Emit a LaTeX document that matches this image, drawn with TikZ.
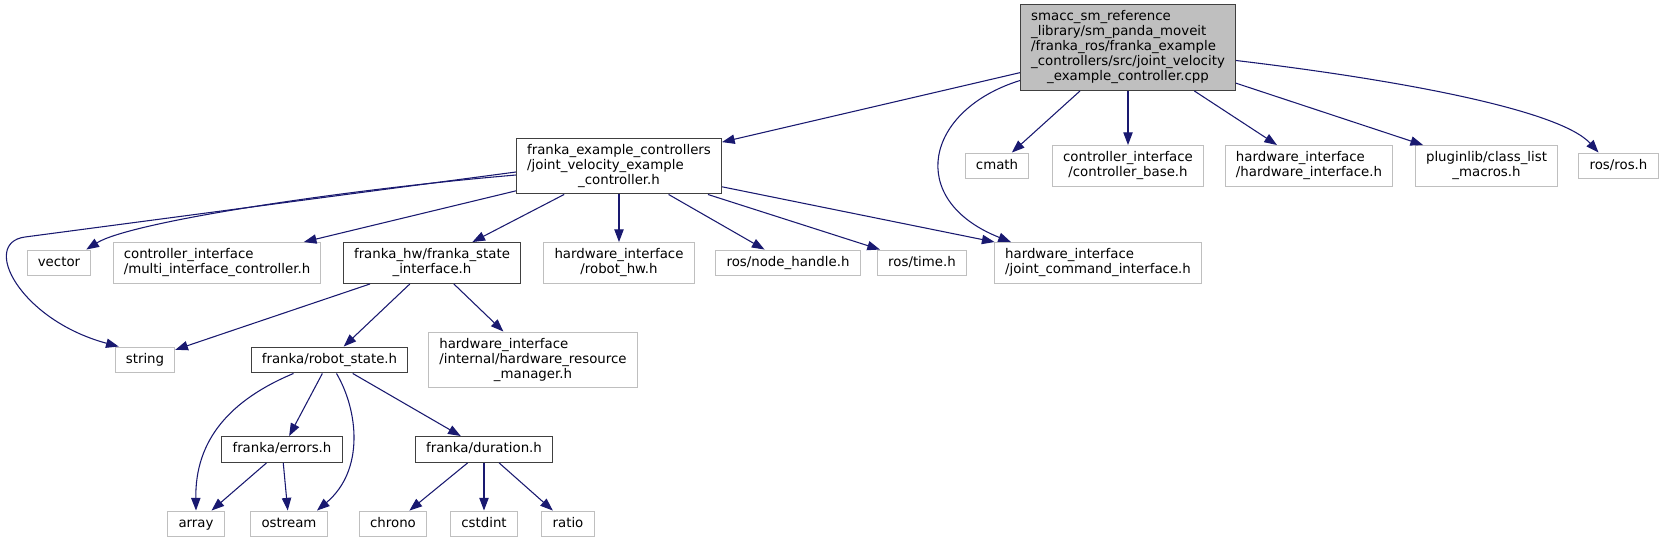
\documentclass[tikz,border=0pt]{standalone}
\usepackage{fontspec}
\setmainfont{DejaVu Sans}
\usetikzlibrary{arrows.meta,calc}

\definecolor{edgeblue}{HTML}{191970}
\definecolor{grayfill}{HTML}{BFBFBF}
\definecolor{grayline}{HTML}{BFBFBF}
\definecolor{darkline}{HTML}{404040}

% label lines: left aligned, the last one centred
\newcommand{\flbl}[1]{\begin{tabular}{@{}l@{}}#1\end{tabular}}
\newcommand{\lastln}[1]{\multicolumn{1}{@{}c@{}}{#1}}

\tikzset{
  file/.style = {rectangle, inner xsep=8pt, inner ysep=4.1pt, line width=0.75pt,
                 font=\fontsize{10}{11.25}\selectfont},
  rootfile/.style = {file, draw=darkline, fill=grayfill},
  hdr/.style = {file, draw=darkline, fill=white},
  ext/.style = {file, draw=grayline, fill=white},
  dep/.style = {draw=edgeblue, line width=0.8pt, -{Triangle[length=9.5pt,width=7pt]}}
}

\begin{document}
\begin{tikzpicture}[x=0.75pt, y=-0.75pt]
	\path[use as bounding box, fill=white] (0,0) rectangle (1666,543);

	% the source file
	\node[rootfile] (cpp) at (1128,47.5) {\flbl{smacc\_sm\_reference\\\_library/sm\_panda\_moveit\\/franka\_ros/franka\_example\\\_controllers/src/joint\_velocity\\\lastln{\_example\_controller.cpp}}};

	% first row
	\node[hdr] (jvech) at (619,166) {\flbl{franka\_example\_controllers\\/joint\_velocity\_example\\\lastln{\_controller.h}}};
	\node[ext] (cmath) at (997,166) {\flbl{cmath}};
	\node[ext] (ctrlbase) at (1128,166) {\flbl{controller\_interface\\\lastln{/controller\_base.h}}};
	\node[ext] (hwiface) at (1309,166) {\flbl{hardware\_interface\\\lastln{/hardware\_interface.h}}};
	\node[ext] (pluginlib) at (1486.5,166) {\flbl{pluginlib/class\_list\\\lastln{\_macros.h}}};
	\node[ext] (rosh) at (1618.5,166) {\flbl{ros/ros.h}};

	% second row
	\node[ext] (vector) at (59,263) {\flbl{vector}};
	\node[ext] (multi) at (217,263) {\flbl{controller\_interface\\\lastln{/multi\_interface\_controller.h}}};
	\node[hdr] (fsi) at (432,263) {\flbl{franka\_hw/franka\_state\\\lastln{\_interface.h}}};
	\node[ext] (robothw) at (619,263) {\flbl{hardware\_interface\\\lastln{/robot\_hw.h}}};
	\node[ext] (nodehandle) at (788,263) {\flbl{ros/node\_handle.h}};
	\node[ext] (rostime) at (922,263) {\flbl{ros/time.h}};
	\node[ext] (jointcmd) at (1098,263) {\flbl{hardware\_interface\\\lastln{/joint\_command\_interface.h}}};

	% third row
	\node[ext] (string) at (145,360) {\flbl{string}};
	\node[hdr] (robotstate) at (329.5,360) {\flbl{franka/robot\_state.h}};
	\node[ext] (resmgr) at (533,360) {\flbl{hardware\_interface\\/internal/hardware\_resource\\\lastln{\_manager.h}}};

	% fourth row
	\node[hdr] (errors) at (282,449.5) {\flbl{franka/errors.h}};
	\node[hdr] (duration) at (484,449.5) {\flbl{franka/duration.h}};

	% last row
	\node[ext] (array) at (196,524) {\flbl{array}};
	\node[ext] (ostream) at (289,524) {\flbl{ostream}};
	\node[ext] (chrono) at (393,524) {\flbl{chrono}};
	\node[ext] (cstdint) at (484,524) {\flbl{cstdint}};
	\node[ext] (ratio) at (568,524) {\flbl{ratio}};

	% includes of the source file
	\draw[dep] (cpp) -- (jvech);
	\draw[dep] ($(cpp.west)+(0,33)$) .. controls (925,110) and (905,200) .. ($(jointcmd.north west)+(17,0)$);
	\draw[dep] (cpp) -- (cmath);
	\draw[dep] (cpp) -- (ctrlbase);
	\draw[dep] (cpp) -- (hwiface);
	\draw[dep] (cpp) -- (pluginlib);
	\draw[dep] ($(cpp.east)+(0,13)$) .. controls (1400,80) and (1560,110) .. ($(rosh.north)+(-20,0)$);

	% includes of the controller header
	\draw[dep] ($(jvech.west)+(0,6)$) -- (25,237) .. controls (-20,243) and (20,320) .. ($(string.north west)+(4,0)$);
	\draw[dep] ($(jvech.west)+(0,9)$) .. controls (340,190) and (130,222) .. ($(vector.north east)+(-5,0)$);
	\draw[dep] (jvech) -- (multi);
	\draw[dep] (jvech) -- (fsi);
	\draw[dep] (jvech) -- (robothw);
	\draw[dep] (jvech) -- (nodehandle);
	\draw[dep] (jvech) -- (rostime);
	\draw[dep] (jvech) -- (jointcmd);

	\draw[dep] (fsi) -- (string);
	\draw[dep] (fsi) -- (robotstate);
	\draw[dep] (fsi) -- (resmgr);

	\draw[dep] ($(robotstate.south)+(-36,0)$) .. controls (230,400) and (195,440) .. (array.north);
	\draw[dep] (robotstate) -- (errors);
	\draw[dep] ($(robotstate.south)+(7,0)$) .. controls (358,410) and (365,470) .. ($(ostream.north)+(28,0)$);
	\draw[dep] (robotstate) -- (duration);

	\draw[dep] (errors) -- (array);
	\draw[dep] (errors) -- (ostream);

	\draw[dep] (duration) -- (chrono);
	\draw[dep] (duration) -- (cstdint);
	\draw[dep] (duration) -- (ratio);
\end{tikzpicture}
\end{document}
